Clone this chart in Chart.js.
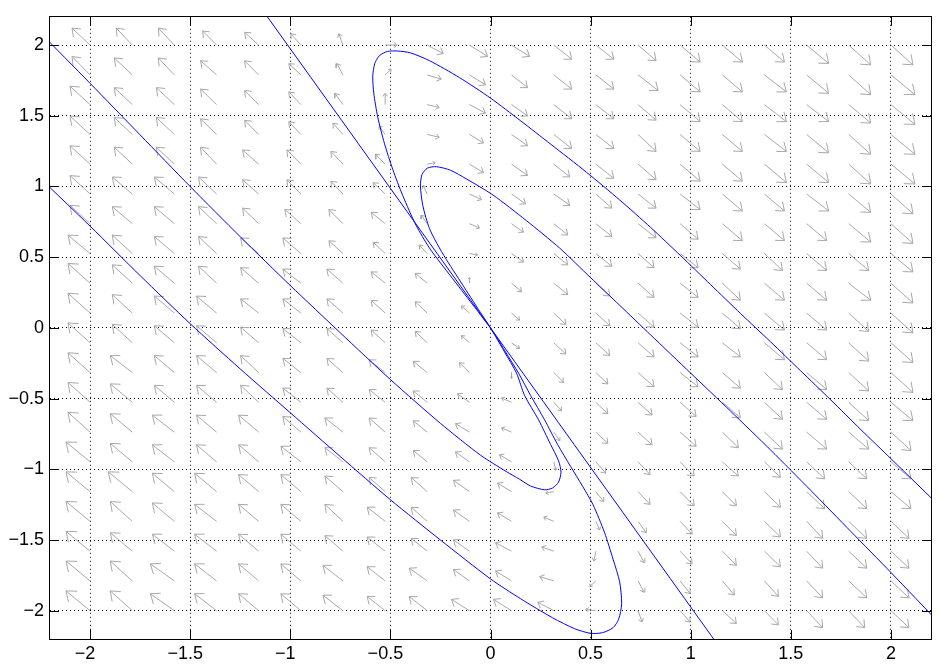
<!DOCTYPE html>
<html>
<head>
<meta charset="utf-8">
<script src="https://cdn.jsdelivr.net/npm/chart.js@4.4.0/dist/chart.umd.min.js"></script>
<style>
  html, body { margin: 0; padding: 0; background: #fff; }
  canvas { display: block; }
</style>
</head>
<body>
<canvas id="phase" width="941" height="668"></canvas>
<script>
// axis ticks
var xTicks = [-2, -1.5, -1, -0.5, 0, 0.5, 1, 1.5, 2];
var xTickLabels = ['−2', '−1.5', '−1', '−0.5', '0', '0.5', '1', '1.5', '2'];
var yTicks = [-2, -1.5, -1, -0.5, 0, 0.5, 1, 1.5, 2];
var yTickLabels = ['−2', '−1.5', '−1', '−0.5', '0', '0.5', '1', '1.5', '2'];

// quiver grid, 20 x 20
var gridX = [-2, -1.789, -1.579, -1.368, -1.158, -0.947, -0.737, -0.526, -0.316, -0.105,
             0.105, 0.316, 0.526, 0.737, 0.947, 1.158, 1.368, 1.579, 1.789, 2];
var gridY = [-2, -1.789, -1.579, -1.368, -1.158, -0.947, -0.737, -0.526, -0.316, -0.105,
             0.105, 0.316, 0.526, 0.737, 0.947, 1.158, 1.368, 1.579, 1.789, 2];

// arrow components (hundredths of a unit), one row per gridY value, bottom row first
var arrowU = [
  [-12,-11,-12,-11,-10,-10,-10,-9,-9,-9,-9,-8,-5,2,5,7,7,8,8,9],
  [-12,-11,-12,-11,-10,-10,-10,-9,-9,-8,-8,-7,-3,3,5,6,7,8,9,9],
  [-12,-11,-11,-11,-10,-10,-9,-9,-8,-8,-8,-6,-1,3,6,7,8,8,9,9],
  [-12,-11,-11,-11,-10,-10,-9,-9,-8,-8,-7,-5,2,4,6,7,8,8,9,9],
  [-12,-12,-11,-11,-10,-10,-9,-8,-8,-8,-7,-4,4,6,7,7,8,9,9,10],
  [-12,-11,-11,-10,-10,-10,-9,-8,-7,-7,-6,1,5,6,7,8,8,9,9,10],
  [-11,-11,-11,-10,-10,-9,-9,-8,-7,-7,-5,3,6,7,8,8,9,10,10,10],
  [-11,-11,-10,-10,-9,-9,-8,-8,-7,-6,-5,4,6,7,8,9,9,10,10,11],
  [-11,-11,-10,-10,-9,-9,-8,-8,-7,-5,0,5,6,8,9,9,9,10,10,11],
  [-11,-10,-10,-10,-9,-9,-8,-7,-6,-4,4,6,7,8,9,9,10,10,10,11],
  [-11,-10,-10,-10,-9,-9,-8,-7,-6,-4,4,6,7,8,9,9,10,10,10,11],
  [-11,-10,-10,-9,-9,-9,-8,-7,-6,0,5,7,7,8,9,9,10,10,11,11],
  [-11,-10,-10,-9,-9,-9,-7,-6,-4,4,6,7,8,8,9,9,9,10,10,11],
  [-10,-10,-10,-9,-8,-8,-7,-7,-3,5,6,7,8,9,9,10,10,10,11,11],
  [-10,-10,-10,-9,-8,-7,-6,-6,-2,6,7,8,8,9,10,10,10,11,11,11],
  [-10,-9,-9,-8,-8,-7,-6,-5,4,7,8,8,9,9,10,10,11,11,11,12],
  [-10,-9,-9,-8,-7,-6,-5,-3,6,7,8,9,9,9,10,10,11,11,11,12],
  [-10,-9,-9,-8,-7,-6,-4,0,6,8,8,9,9,9,10,10,11,11,11,12],
  [-9,-9,-8,-8,-7,-6,-3,3,7,8,8,9,9,10,10,10,11,11,11,12],
  [-9,-8,-8,-7,-7,-5,-2,6,8,9,9,9,9,9,10,10,10,11,11,11]
];
var arrowV = [
  [14,14,12,12,12,12,11,10,10,8,8,6,1,-8,-8,-9,-10,-12,-12,-12],
  [14,14,12,12,12,12,11,10,9,8,7,3,-4,-8,-9,-10,-11,-12,-12,-12],
  [14,13,12,12,12,12,11,10,9,8,6,3,-7,-8,-9,-10,-11,-12,-12,-12],
  [14,14,13,12,12,12,12,10,10,8,6,3,-6,-8,-9,-10,-11,-12,-12,-12],
  [14,14,13,13,12,12,11,10,10,8,6,-1,-7,-9,-10,-10,-11,-12,-12,-12],
  [14,13,12,12,12,11,10,10,8,7,5,-6,-8,-9,-10,-10,-11,-12,-12,-12],
  [14,13,12,12,12,11,10,10,8,6,3,-6,-8,-9,-10,-11,-12,-12,-12,-13],
  [14,13,12,12,12,10,10,9,8,6,3,-6,-8,-9,-10,-11,-12,-12,-13,-13],
  [14,12,12,12,12,10,10,9,8,7,-4,-7,-8,-10,-10,-11,-12,-12,-13,-14],
  [14,13,12,12,11,10,10,9,8,5,-4,-8,-9,-10,-10,-10,-12,-12,-13,-14],
  [14,13,12,12,10,10,10,9,8,5,-5,-8,-9,-10,-10,-11,-12,-12,-13,-14],
  [14,13,12,12,11,10,10,8,7,4,-6,-8,-9,-10,-10,-12,-12,-12,-12,-14],
  [13,13,12,12,11,11,9,8,6,-1,-6,-8,-9,-10,-10,-11,-12,-12,-12,-13],
  [13,12,12,12,11,10,10,8,6,-3,-6,-8,-9,-10,-11,-12,-12,-12,-13,-14],
  [13,12,12,12,10,10,9,8,6,-4,-7,-8,-10,-10,-11,-12,-12,-12,-13,-14],
  [13,12,12,12,10,10,9,7,1,-6,-8,-9,-10,-11,-12,-12,-13,-13,-14,-14],
  [13,12,12,11,10,9,8,6,-2,-6,-8,-10,-10,-12,-12,-12,-12,-13,-14,-14],
  [13,12,12,11,10,9,8,8,-2,-6,-8,-10,-10,-11,-12,-12,-12,-12,-13,-14],
  [13,12,12,10,10,8,8,4,-3,-7,-9,-10,-10,-11,-12,-12,-12,-13,-14,-14],
  [12,12,12,10,9,8,8,0,-6,-8,-8,-10,-10,-11,-12,-12,-12,-13,-14,-14]
];

// trajectories [x, y]
var trajA = [[0,0],[-0.025,0.045],[-0.07,0.13],[-0.13,0.24],[-0.19,0.35],[-0.25,0.46],[-0.305,0.565],
  [-0.372,0.726],[-0.438,0.935],[-0.488,1.12],[-0.53,1.306],[-0.563,1.49],[-0.583,1.66],[-0.588,1.78],
  [-0.578,1.87],[-0.555,1.925],[-0.515,1.955],[-0.465,1.958],[-0.4,1.945],[-0.305,1.89],[-0.155,1.77],
  [0,1.625],[0.15,1.465],[0.3,1.3],[0.48,1.1],[0.645,0.905],[0.8,0.71],[0.95,0.51],[1.1,0.305],
  [1.25,0.1],[1.4,-0.1],[1.55,-0.305],[1.7,-0.51],[1.85,-0.72],[2,-0.925],[2.25,-1.27]];
var trajB = [[0,0],[-0.02,0.045],[-0.06,0.13],[-0.11,0.24],[-0.16,0.35],[-0.21,0.46],[-0.255,0.565],
  [-0.305,0.703],[-0.338,0.865],[-0.35,1.004],[-0.342,1.085],[-0.315,1.13],[-0.27,1.14],[-0.2,1.115],
  [-0.122,1.055],[0.012,0.94],[0.178,0.76],[0.345,0.565],[0.5,0.355],[0.645,0.16],[0.8,-0.05],
  [1,-0.32],[1.2,-0.59],[1.4,-0.865],[1.6,-1.15],[1.8,-1.44],[2,-1.73],[2.25,-2.1]];
var trajC = [[-1.16,2.29],[0,0],[1.16,-2.29]];
var trajD = [[0,0],[0.028,-0.06],[0.075,-0.17],[0.14,-0.32],[0.2,-0.477],[0.27,-0.65],[0.335,-0.824],
  [0.4,-0.98],[0.46,-1.12],[0.512,-1.25],[0.57,-1.449],[0.612,-1.635],[0.645,-1.796],[0.655,-1.95],
  [0.64,-2.06],[0.612,-2.12],[0.56,-2.155],[0.5,-2.16],[0.42,-2.127],[0.31,-2.05],[0.15,-1.915],
  [0,-1.775],[-0.25,-1.5],[-0.5,-1.215],[-0.75,-0.91],[-1,-0.6],[-1.25,-0.29],[-1.5,0.03],
  [-1.75,0.37],[-2,0.72],[-2.25,1.06]];
var trajE = [[0,0],[0.025,-0.06],[0.07,-0.17],[0.13,-0.32],[0.17,-0.477],[0.24,-0.65],[0.3,-0.824],
  [0.34,-0.94],[0.352,-1.02],[0.34,-1.09],[0.31,-1.132],[0.27,-1.145],[0.2,-1.118],[0.145,-1.07],
  [0.078,-1.015],[-0.05,-0.9],[-0.25,-0.675],[-0.5,-0.365],[-0.75,-0.035],[-1,0.3],[-1.25,0.645],
  [-1.5,1],[-1.75,1.365],[-2,1.73],[-2.25,2.09]];

var arrowScale = 0.01;
var headSize = 0.36;
var headAngle = 38 * Math.PI / 180;
var tickFont = { family: "'Liberation Sans', Arial, sans-serif", size: 18 };

function toPoints(list) {
  return list.map(function (p) { return { x: p[0], y: p[1] }; });
}

function curve(list) {
  return {
    data: toPoints(list),
    showLine: true,
    borderColor: '#0000ff',
    borderWidth: 1,
    pointRadius: 0,
    tension: 0.25,
    fill: false,
    order: 0
  };
}

function tickLabel(labels) {
  return function (value, index) {
    var s = labels[index];
    return s.charAt(0) === '−' ? s + '\u00a0\u00a0' : s;
  };
}

// box and inward ticks on all four sides
var axesBox = {
  id: 'axesBox',
  afterDraw: function (chart) {
    var ctx = chart.ctx, a = chart.chartArea;
    var sx = chart.scales.x, sy = chart.scales.y;
    var tl = 9;
    ctx.save();
    ctx.strokeStyle = '#000';
    ctx.lineWidth = 1;
    ctx.strokeRect(Math.round(a.left) - 0.5, Math.round(a.top) - 0.5,
      Math.round(a.right - a.left) + 1, Math.round(a.bottom - a.top) + 1);
    ctx.beginPath();
    xTicks.forEach(function (v) {
      var px = Math.round(sx.getPixelForValue(v)) + 0.5;
      ctx.moveTo(px, a.bottom); ctx.lineTo(px, a.bottom - tl);
      ctx.moveTo(px, a.top); ctx.lineTo(px, a.top + tl);
    });
    yTicks.forEach(function (v) {
      var py = Math.round(sy.getPixelForValue(v)) + 0.5;
      ctx.moveTo(a.left, py); ctx.lineTo(a.left + tl, py);
      ctx.moveTo(a.right, py); ctx.lineTo(a.right - tl, py);
    });
    ctx.stroke();
    ctx.restore();
  }
};

var chart = new Chart('phase', {
  type: 'scatter',
  data: {
    datasets: [
      curve(trajA), curve(trajB), curve(trajC), curve(trajD), curve(trajE),
      {
        data: [],
        showLine: true,
        borderColor: '#a8a8a8',
        borderWidth: 1,
        pointRadius: 0,
        tension: 0,
        spanGaps: false,
        order: 1
      }
    ]
  },
  options: {
    responsive: false,
    animation: false,
    events: [],
    layout: { padding: { top: 4, right: 10, bottom: 0, left: 0 } },
    plugins: {
      legend: { display: false },
      tooltip: { enabled: false }
    },
    scales: {
      x: {
        type: 'linear',
        min: -2.2,
        max: 2.2,
        afterBuildTicks: function (s) { s.ticks = xTicks.map(function (v) { return { value: v }; }); },
        afterFit: function (s) { s.height = 29; },
        grid: { color: '#000', lineWidth: 1, drawTicks: false },
        border: { display: false, dash: [1, 3] },
        ticks: { color: '#000', font: tickFont, padding: 4, maxRotation: 0, autoSkip: false,
                 callback: tickLabel(xTickLabels) }
      },
      y: {
        type: 'linear',
        min: -2.2,
        max: 2.2,
        afterBuildTicks: function (s) { s.ticks = yTicks.map(function (v) { return { value: v }; }); },
        afterFit: function (s) { s.width = 50; },
        grid: { color: '#000', lineWidth: 1, drawTicks: false },
        border: { display: false, dash: [1, 3] },
        ticks: { color: '#000', font: tickFont, padding: 6, autoSkip: false,
                 callback: function (value, index) { return yTickLabels[index]; } }
      }
    }
  },
  plugins: [axesBox]
});

// quiver: shaft + two head strokes per arrow, separated by gaps
function buildQuiver() {
  var sx = chart.scales.x, sy = chart.scales.y;
  var kx = sx.getPixelForValue(1) - sx.getPixelForValue(0);
  var ky = sy.getPixelForValue(0) - sy.getPixelForValue(1);
  var pts = [];
  for (var j = 0; j < gridY.length; j++) {
    for (var i = 0; i < gridX.length; i++) {
      var x0 = gridX[i], y0 = gridY[j];
      var u = arrowU[j][i] * arrowScale, v = arrowV[j][i] * arrowScale;
      var x1 = x0 + u, y1 = y0 + v;
      var px = u * kx, py = v * ky;
      var len = Math.sqrt(px * px + py * py);
      if (len < 0.5) continue;
      var back = Math.atan2(-py, -px);
      var hl = headSize * len;
      var a1 = back + headAngle, a2 = back - headAngle;
      pts.push({ x: x0, y: y0 }, { x: x1, y: y1 }, { x: x1, y: null });
      pts.push({ x: x1 + hl * Math.cos(a1) / kx, y: y1 + hl * Math.sin(a1) / ky },
               { x: x1, y: y1 },
               { x: x1 + hl * Math.cos(a2) / kx, y: y1 + hl * Math.sin(a2) / ky },
               { x: x1, y: null });
    }
  }
  chart.data.datasets[5].data = pts;
  chart.update();
}
buildQuiver();
</script>
</body>
</html>
